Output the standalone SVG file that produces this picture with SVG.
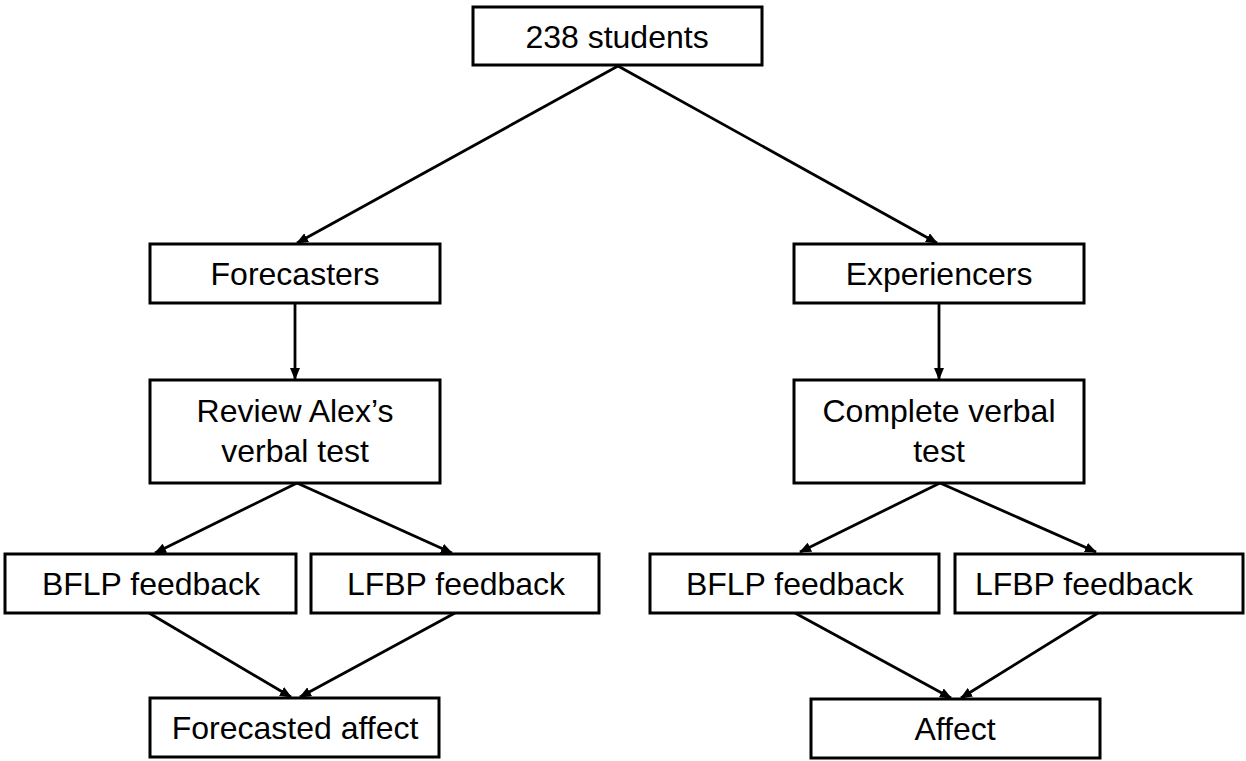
<svg xmlns="http://www.w3.org/2000/svg" width="1246" height="761" viewBox="0 0 1246 761">
<style>
.box{fill:#fff;stroke:#000;stroke-width:3}
.t{font-family:"Liberation Sans",Arial,sans-serif;font-size:32px;fill:#000;text-anchor:middle}
.c{stroke:#000;stroke-width:2.8;fill:none;marker-end:url(#ah)}
</style>
<defs>
<marker id="ah" markerUnits="userSpaceOnUse" markerWidth="12" markerHeight="10" refX="11" refY="5" orient="auto">
<path d="M0,0 L12,5 L0,10 z" fill="#000"/>
</marker>
</defs>
<rect width="1246" height="761" fill="#fff"/>
<g id="connectors">
<line class="c" x1="618" y1="66" x2="297" y2="243"/>
<line class="c" x1="618" y1="66" x2="937" y2="243"/>
<line class="c" x1="295" y1="303" x2="295" y2="379"/>
<line class="c" x1="939" y1="303" x2="939" y2="379"/>
<line class="c" x1="297" y1="483" x2="155" y2="553"/>
<line class="c" x1="297" y1="483" x2="452" y2="553"/>
<line class="c" x1="940" y1="483" x2="800" y2="552"/>
<line class="c" x1="940" y1="483" x2="1096" y2="552"/>
<line class="c" x1="149" y1="613" x2="291" y2="697"/>
<line class="c" x1="455" y1="613" x2="300" y2="697"/>
<line class="c" x1="795" y1="613" x2="951" y2="698"/>
<line class="c" x1="1098" y1="613" x2="961" y2="698"/>
</g>
<g id="n-students"><rect class="box" x="473" y="7" width="289" height="58"/><text class="t" x="617" y="48">238 students</text></g>
<g id="n-forecasters"><rect class="box" x="150" y="244" width="290" height="59"/><text class="t" x="295" y="285">Forecasters</text></g>
<g id="n-experiencers"><rect class="box" x="794" y="244" width="290" height="59"/><text class="t" x="939" y="285">Experiencers</text></g>
<g id="n-review"><rect class="box" x="150" y="380" width="290" height="103"/><text class="t" x="295" y="422">Review Alex’s</text><text class="t" x="295" y="462">verbal test</text></g>
<g id="n-complete"><rect class="box" x="794" y="380" width="290" height="103"/><text class="t" x="939" y="422">Complete verbal</text><text class="t" x="939" y="462">test</text></g>
<g id="n-bflp-l"><rect class="box" x="5" y="554" width="291" height="59"/><text class="t" x="151" y="595">BFLP feedback</text></g>
<g id="n-lfbp-l"><rect class="box" x="311" y="554" width="288" height="59"/><text class="t" x="456" y="595">LFBP feedback</text></g>
<g id="n-bflp-r"><rect class="box" x="650" y="554" width="289" height="59"/><text class="t" x="795" y="595">BFLP feedback</text></g>
<g id="n-lfbp-r"><rect class="box" x="955" y="554" width="288" height="59"/><text class="t" x="1084" y="595">LFBP feedback</text></g>
<g id="n-forecasted"><rect class="box" x="150" y="698" width="289" height="59"/><text class="t" x="295" y="739">Forecasted affect</text></g>
<g id="n-affect"><rect class="box" x="811" y="699" width="289" height="59"/><text class="t" x="955" y="740">Affect</text></g>
</svg>
